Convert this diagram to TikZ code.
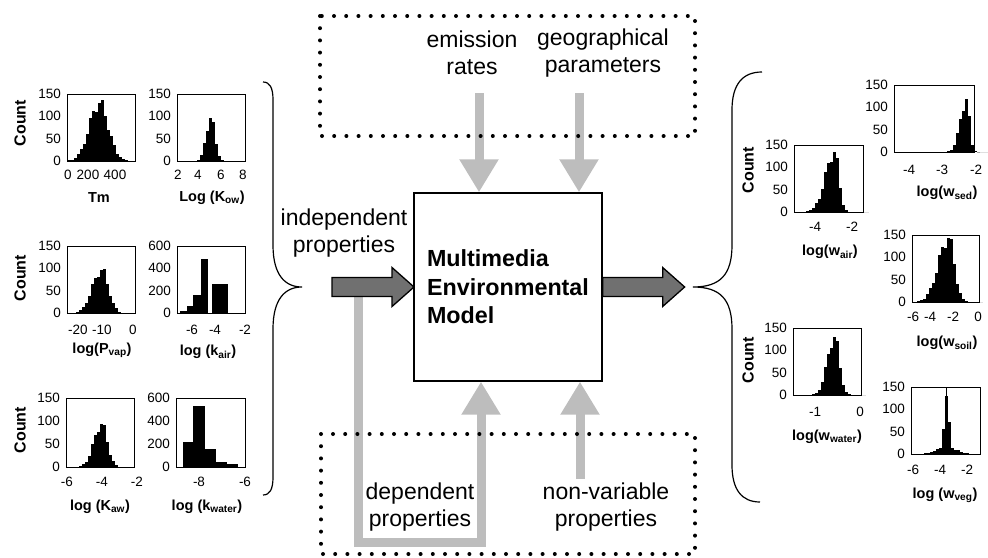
\documentclass[tikz,border=0pt]{standalone}
\usepackage{fontspec}
\setmainfont{Liberation Sans}
\usepackage{tikz}
\usetikzlibrary{arrows.meta,calc}

\tikzset{
  lbl/.style={font=\fontsize{23}{27}\selectfont, align=center, inner sep=0pt},
  tick/.style={font=\fontsize{13.5}{13.5}\selectfont, inner sep=0pt},
  axlbl/.style={font=\bfseries\fontsize{14.5}{15}\selectfont, inner sep=0pt},
  cnt/.style={font=\bfseries\fontsize{16}{16}\selectfont, rotate=90, inner sep=0pt},
  frame/.style={draw, line width=0.9pt},
  brace/.style={draw, line width=1.2pt},
  dotbox/.style={line width=4pt, line cap=round, dash pattern=on 0pt off 12.2pt},
  grayarrow/.style={draw=black!26, line width=9pt, -{Triangle[width=37pt,length=33pt]}},
  darkarrow/.style={draw, line width=1.3pt, fill=black!56, line join=miter},
}

% histogram bars: centre x, base y, sigma left, sigma right, peak, bins each side
\newcommand{\hist}[6]{%
  \foreach \k in {-#6,...,#6}{%
    \pgfmathsetmacro{\sg}{(\k<0) ? #3 : #4}%
    \pgfmathsetmacro{\hh}{#5*exp(-(\k*3)*(\k*3)/(2*\sg*\sg))*(1+0.12*sin(\k*97))}%
    \fill (#1+\k*3-1.5,#2) rectangle ++(3,-\hh);%
  }}

% frame and count ticks: name, x0, y0, x1, y1, three upper tick values
\newcommand{\panel}[8]{%
  \draw[frame] (#2,#3) rectangle (#4,#5);
  \foreach \v [count=\j from 0] in {#6,#7,#8,0}
    \node[tick, anchor=east] (#1-y\j) at ({#2-6},{#3+\j*(#5-#3)/3}) {\v};
}

% big block arrow starting at a point, pointing right
\newcommand{\bigarrow}[1]{%
  \draw[darkarrow] (#1) ++(0,-9.5) -- ++(60,0) -- ++(0,-10) -- ++(22,19.5)
    -- ++(-22,19.5) -- ++(0,-10) -- ++(-60,0) -- cycle;
}

\begin{document}
\begin{tikzpicture}[x=1pt,y=-1pt]
  \useasboundingbox (0,0) rectangle (988,557);

  % model box
  \node[draw, line width=1.3pt, minimum width=188pt, minimum height=188pt,
        align=left, inner sep=0pt, font=\bfseries\fontsize{23.3}{28.5}\selectfont]
        (model) at (508,287) {Multimedia\\Environmental\\Model};

  % gray inputs
  \coordinate (emis) at (479,93);
  \coordinate (geo) at (579,93);
  \coordinate (dep0) at (358,290);
  \coordinate (dep1) at (481,542);
  \coordinate (nonvar) at (580,479);
  \draw[grayarrow] (emis) -- (emis |- model.north);
  \draw[grayarrow] (geo) -- (geo |- model.north);
  \draw[grayarrow] (dep0) |- (dep1) -- (dep1 |- model.south);
  \draw[grayarrow] (nonvar) -- (nonvar |- model.south);

  % dotted boxes
  \draw[dotbox] (320,16) rectangle (695,136);
  \draw[dotbox] (321,434) rectangle (695,554);

  \node[lbl] (emistxt) at (472,53) {emission\\rates};
  \node[lbl] (geotxt) at (603,53) {geographical\\parameters};
  \node[lbl] (deptxt) at (420,507) {dependent\\properties};
  \node[lbl] (nonvartxt) at (606,507) {non-variable\\properties};
  \node[lbl] (indeptxt) at (344,233) {independent\\properties};

  % block arrows
  \coordinate (inarrow) at (332,287);
  \bigarrow{inarrow}
  \bigarrow{model.east}

  % braces
  \draw[brace] (263,82) .. controls (270,82) and (273,88) .. (273,100) -- (273,245)
    .. controls (273,275) and (285,287) .. (302,287)
    .. controls (285,287) and (273,299) .. (273,329) -- (273,477)
    .. controls (273,489) and (270,495) .. (263,495);
  \draw[brace] (762,72) .. controls (742,72) and (732,85) .. (732,110) -- (732,245)
    .. controls (732,275) and (720,287) .. (693,287)
    .. controls (720,287) and (732,299) .. (732,329) -- (732,465)
    .. controls (732,490) and (742,502) .. (760,502);

  % ---- left histograms ----
  \hist{99}{161}{10}{9}{58}{10}
  \panel{tm}{67}{94}{135}{161}{150}{100}{50}
  \foreach \v/\p in {0/68,200/88,400/115} \node[tick] (tm-x\v) at (\p,175) {\v};
  \node[axlbl] (tmlbl) at (99,198) {Tm};
  \node[cnt] (cnt1) at (20,123) {Count};

  \hist{210}{161}{4.5}{4.5}{43}{6}
  \panel{kow}{177}{94}{245}{161}{150}{100}{50}
  \foreach \v/\p in {2/178,4/198,6/221,8/243} \node[tick] (kow-x\v) at (\p,175) {\v};
  \node[axlbl] (kowlbl) at (212,198) {Log (K\textsubscript{ow})};

  \hist{101}{313}{9}{7}{43}{11}
  \panel{pvap}{67}{246}{135}{313}{150}{100}{50}
  \foreach \v/\p in {-20/78,-10/102,0/133} \node[tick] (pvap-x\v) at (\p,330) {\v};
  \node[axlbl] (pvaplbl) at (102,350) {log(P\textsubscript{vap})};
  \node[cnt] (cnt2) at (20,278) {Count};

  \fill (180,313) rectangle (187,311);
  \fill (187,313) rectangle (193,306);
  \fill (193,313) rectangle (201,295);
  \fill (201,313) rectangle (208,259);
  \fill (212,313) rectangle (228,284);
  \panel{kair}{177}{246}{245}{313}{600}{400}{200}
  \foreach \v/\p in {-6/192,-4/215,-2/245} \node[tick] (kair-x\v) at (\p,330) {\v};
  \node[axlbl] (kairlbl) at (208,352) {log (k\textsubscript{air})};

  \hist{101}{467}{7.5}{6}{43}{10}
  \panel{kaw}{66}{398}{134}{467}{150}{100}{50}
  \foreach \v/\p in {-6/67,-4/102,-2/137} \node[tick] (kaw-x\v) at (\p,482) {\v};
  \node[axlbl] (kawlbl) at (100,507) {log (K\textsubscript{aw})};
  \node[cnt] (cnt3) at (20,430) {Count};

  \fill (183,467) rectangle (193,442);
  \fill (193,467) rectangle (205,406);
  \fill (205,467) rectangle (216,449);
  \fill (216,467) rectangle (227,462);
  \fill (227,467) rectangle (238,464);
  \panel{kwat}{176}{398}{245}{467}{600}{400}{200}
  \foreach \v/\p in {-8/199,-6/245} \node[tick] (kwat-x\v) at (\p,482) {\v};
  \node[axlbl] (kwatlbl) at (207,507) {log (k\textsubscript{water})};

  % ---- right histograms ----
  \hist{834}{212}{9}{4.5}{60}{11}
  \panel{air}{794}{145}{863}{212}{150}{100}{50}
  \foreach \v/\p in {-4/815,-2/852} \node[tick] (air-x\v) at (\p,227) {\v};
  \node[axlbl] (airlbl) at (830,252) {log(w\textsubscript{air})};
  \node[cnt] (cnt4) at (748,170) {Count};

  \hist{966}{152}{6}{3}{53}{9}
  \panel{sed}{894}{85}{974}{152}{150}{100}{50}
  \foreach \v/\p in {-4/909,-3/942,-2/976} \node[tick] (sed-x\v) at (\p,170) {\v};
  \node[axlbl] (sedlbl) at (947,193) {log(w\textsubscript{sed})};

  \hist{948}{302}{10}{6}{64}{11}
  \panel{soil}{912}{235}{979}{302}{150}{100}{50}
  \foreach \v/\p in {-6/913,-4/930,-2/953,0/978} \node[tick] (soil-x\v) at (\p,317) {\v};
  \node[axlbl] (soillbl) at (947,343) {log(w\textsubscript{soil})};

  \hist{834}{395}{7}{5}{58}{10}
  \panel{water}{793}{328}{861}{395}{150}{100}{50}
  \foreach \v/\p in {-1/815,0/860} \node[tick] (water-x\v) at (\p,412) {\v};
  \node[axlbl] (waterlbl) at (827,437) {log(w\textsubscript{water})};
  \node[cnt] (cnt5) at (748,360) {Count};

  \hist{946}{454}{2.5}{2.5}{58}{4}
  \hist{946}{454}{10}{10}{7}{10}
  \draw[line width=0.8pt] (946,454) -- (946,387);
  \panel{veg}{911}{387}{980}{454}{150}{100}{50}
  \foreach \v/\p in {-6/913,-4/940,-2/967} \node[tick] (veg-x\v) at (\p,470) {\v};
  \node[axlbl] (veglbl) at (945,495) {log (w\textsubscript{veg})};
\end{tikzpicture}
\end{document}
